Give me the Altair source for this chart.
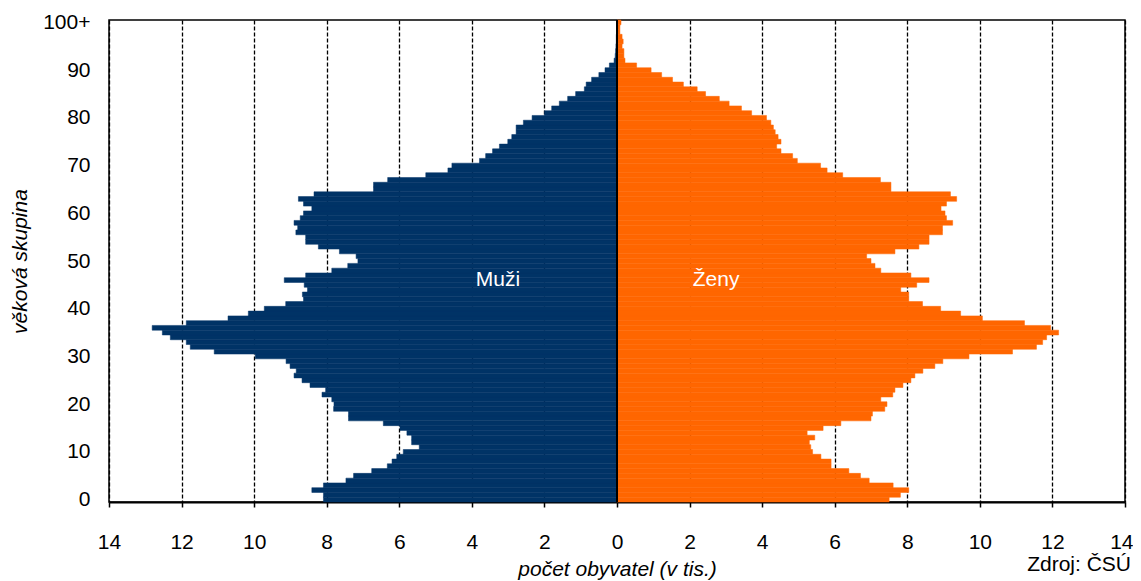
import altair as alt
import pandas as pd

# age groups 0 .. 100 (100 = "100+")
ages = list(range(0, 101))

# population in thousands
muzi = [8.09, 8.09, 8.41, 8.09, 7.47, 7.26, 6.76, 6.33, 6.20, 6.07,
        5.89, 5.45, 5.66, 5.66, 5.79, 5.98, 6.44, 7.40, 7.40, 7.81,
        7.80, 7.86, 8.13, 8.03, 8.46, 8.68, 8.90, 8.84, 9.01, 9.12,
        9.97, 11.10, 11.76, 11.87, 12.31, 12.53, 12.81, 11.87, 10.72, 10.16,
        9.72, 9.13, 8.64, 8.67, 8.53, 8.62, 9.17, 8.58, 7.86, 7.42,
        7.14, 7.19, 7.65, 8.23, 8.58, 8.58, 8.85, 8.80, 8.90, 8.73,
        8.64, 8.41, 8.64, 8.78, 8.35, 6.71, 6.71, 6.32, 5.27, 4.66,
        4.55, 3.79, 3.62, 3.43, 3.24, 3.01, 2.90, 2.78, 2.78, 2.58,
        2.34, 2.00, 1.80, 1.59, 1.36, 1.14, 0.90, 0.85, 0.70, 0.50,
        0.33, 0.21, 0.08, 0.05, 0.04, 0.03, 0.02, 0.02, 0.01, 0.01, 0.01]

zeny = [7.50, 7.81, 8.04, 7.61, 6.95, 6.71, 6.39, 5.90, 5.90, 5.62,
        5.39, 5.34, 5.30, 5.45, 5.24, 5.68, 6.17, 7.00, 7.04, 7.38,
        7.44, 7.27, 7.60, 7.66, 7.88, 8.10, 8.21, 8.43, 8.76, 8.98,
        9.70, 10.90, 11.56, 11.73, 11.84, 12.17, 11.95, 11.23, 10.07, 9.47,
        8.92, 8.42, 8.04, 8.04, 7.82, 8.26, 8.60, 8.10, 7.27, 7.11,
        7.00, 6.88, 7.66, 8.32, 8.60, 8.60, 8.97, 8.97, 9.25, 9.08,
        9.04, 8.93, 9.08, 9.36, 9.19, 7.55, 7.55, 7.26, 6.22, 5.79,
        5.61, 4.97, 4.84, 4.52, 4.40, 4.52, 4.44, 4.36, 4.31, 4.24,
        4.12, 3.71, 3.43, 3.09, 2.82, 2.44, 2.21, 1.83, 1.53, 1.23,
        0.94, 0.54, 0.22, 0.19, 0.19, 0.14, 0.17, 0.14, 0.08, 0.08, 0.11]

x_ticks = list(range(-14, 15, 2))
y_ticks = list(range(0, 101, 10))

rows = []
for a, m, z in zip(ages, muzi, zeny):
    rows.append({"vek": a, "pohlavi": "Muži", "pocet": -m})
    rows.append({"vek": a, "pohlavi": "Ženy", "pocet": z})
df = pd.DataFrame(rows)

FONT = "Liberation Sans, Arial, Helvetica, sans-serif"
FS = 21

x_scale = alt.Scale(domain=[-14, 14], nice=False, zero=False)
y_scale = alt.Scale(domain=[-0.5, 100.5], nice=False, zero=False)
col_scale = alt.Scale(domain=["Muži", "Ženy"], range=["#003366", "#FF6600"])

bars = alt.Chart(df).transform_calculate(
    y0="datum.vek - 0.5", y1="datum.vek + 0.5"
).mark_bar(strokeWidth=0.5).encode(
    x=alt.X("pocet:Q", scale=x_scale,
            axis=alt.Axis(values=x_ticks, labelExpr="abs(datum.value)",
                          title="počet obyvatel (v tis.)",
                          grid=True, gridColor="black", gridDash=[4, 2],
                          gridWidth=1.3, gridOpacity=1,
                          domain=True, domainColor="black", domainWidth=2,
                          ticks=True, tickColor="black", tickSize=5, tickWidth=1.5,
                          labelPadding=24, titlePadding=6,
                          labelAlign={"condition": {"test": "datum.value == 14", "value": "right"},
                                      "value": "center"},
                          labelOffset={"condition": {"test": "datum.value == 14", "value": 8},
                                       "value": 0},
                          labelFlush=False, labelOverlap=False)),
    x2=alt.datum(0),
    y=alt.Y("y0:Q", scale=y_scale,
            axis=alt.Axis(values=y_ticks,
                          labelExpr="datum.value == 100 ? '100+' : datum.value",
                          title="věková skupina", grid=False, ticks=False,
                          tickSize=0, domain=False, labelPadding=19,
                          titlePadding=12, labelFlush=False, labelOverlap=False)),
    y2="y1:Q",
    color=alt.Color("pohlavi:N", scale=col_scale, legend=None),
    stroke=alt.Stroke("pohlavi:N", scale=col_scale, legend=None),
)

zero_rule = alt.Chart(pd.DataFrame({"nula": [0]})).mark_rule(
    color="black", strokeWidth=2
).encode(x=alt.X("nula:Q", scale=x_scale))

lbl_m = alt.Chart(pd.DataFrame({"t": ["Muži"]})).mark_text(
    color="white", font=FONT, fontSize=FS, align="center", baseline="middle"
).encode(x=alt.datum(-3.28), y=alt.datum(46), text="t:N")

lbl_z = alt.Chart(pd.DataFrame({"t": ["Ženy"]})).mark_text(
    color="white", font=FONT, fontSize=FS, align="center", baseline="middle"
).encode(x=alt.datum(2.73), y=alt.datum(46), text="t:N")

zdroj = alt.Chart(pd.DataFrame({"t": ["Zdroj: ČSÚ"]})).mark_text(
    color="black", font=FONT, fontSize=FS, align="right", baseline="alphabetic"
).encode(x=alt.value(1022), y=alt.value(551), text="t:N")

chart = alt.layer(bars, zero_rule, lbl_m, lbl_z, zdroj).properties(
    width=1016, height=482,
    autosize=alt.AutoSizeParams(type="none"),
    padding={"left": 101, "top": 12, "right": 8, "bottom": 79},
    background="white",
).configure_view(
    stroke="black", strokeWidth=1.5
).configure_axis(
    labelFont=FONT, titleFont=FONT, labelColor="black", titleColor="black",
    labelFontSize=FS, titleFontSize=FS, titleFontWeight="normal",
    titleFontStyle="italic"
)

chart.save("out.html", embed_options={"renderer": "svg", "actions": False})
